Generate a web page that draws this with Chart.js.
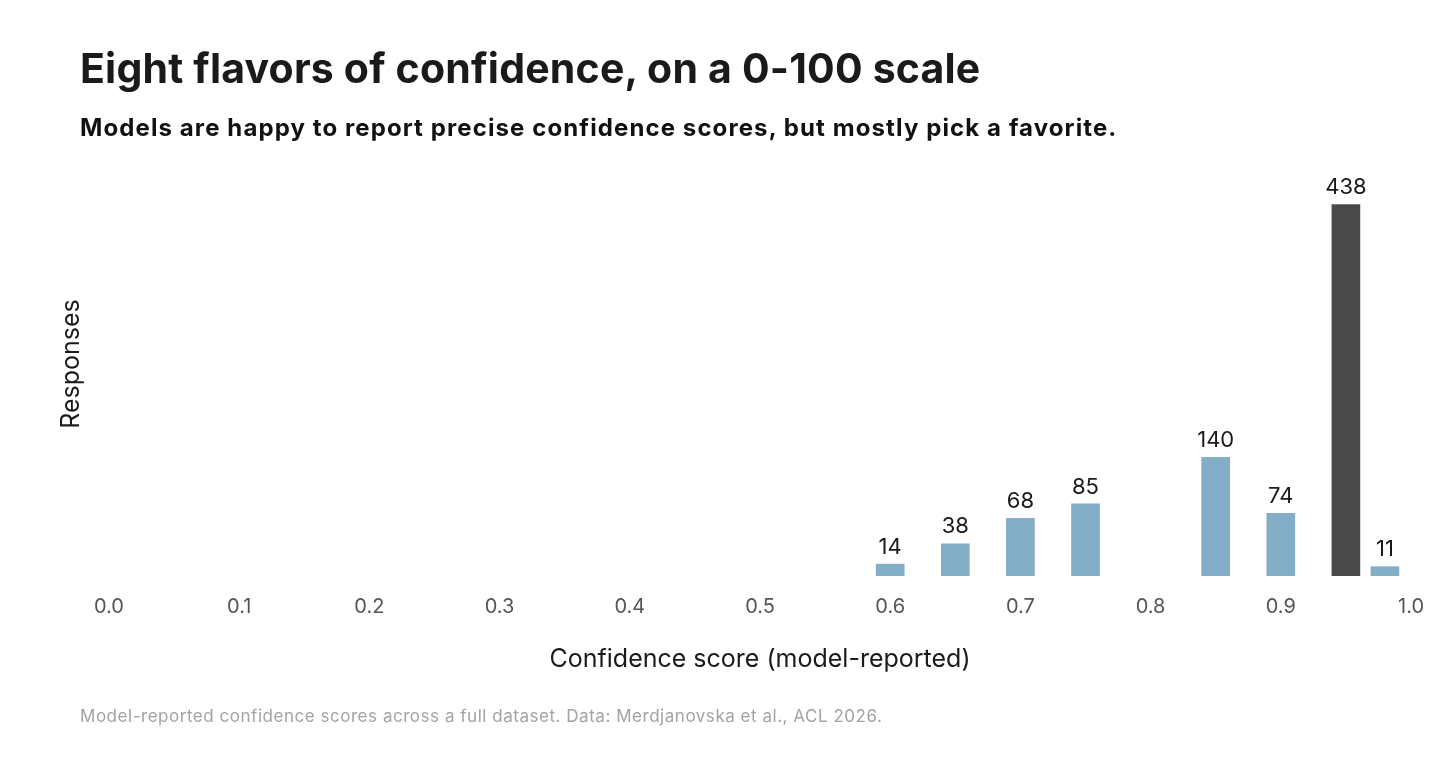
<!DOCTYPE html>
<html>
<head>
<meta charset="utf-8">
<script src="https://cdn.jsdelivr.net/npm/chart.js@4"></script>
<style>
  html, body { margin: 0; padding: 0; background: #fff; }
  #wrap { position: relative; width: 1456px; height: 763px; font-family: Inter, "Noto Sans", sans-serif; }
  #chart { position: absolute; left: 0; top: 0; }
  .title { position: absolute; left: 80px; top: 48px; font-size: 41px; font-weight: 700; letter-spacing: 0.2px; color: #1a1a1a; line-height: 1; white-space: nowrap; }
  .subtitle { position: absolute; left: 80px; top: 116px; font-size: 24px; font-weight: 700; letter-spacing: 1.1px; color: #111; line-height: 1; white-space: nowrap; }
  .note { position: absolute; left: 80px; top: 708px; font-size: 17px; letter-spacing: 0.53px; color: #a3a3a3; line-height: 1; white-space: nowrap; }
</style>
</head>
<body>
<div id="wrap">
  <canvas id="chart" width="1456" height="763"></canvas>
  <div class="title">Eight flavors of confidence, on a 0-100 scale</div>
  <div class="subtitle">Models are happy to report precise confidence scores, but mostly pick a favorite.</div>
  <div class="note">Model-reported confidence scores across a full dataset. Data: Merdjanovska et al., ACL 2026.</div>
</div>
<script>
const scores = [0.60, 0.65, 0.70, 0.75, 0.85, 0.90, 0.95, 0.98]
const responses = [14, 38, 68, 85, 140, 74, 438, 11]
const favorite = 0.95
const tick_values = [0.0, 0.1, 0.2, 0.3, 0.4, 0.5, 0.6, 0.7, 0.8, 0.9, 1.0]

// value labels above each bar
const bar_labels = {
    id: 'bar_labels',
    afterDatasetsDraw(chart) {
        const ctx = chart.ctx
        const meta = chart.getDatasetMeta(0)
        ctx.save()
        ctx.font = '22px Inter, "Noto Sans", sans-serif'
        ctx.fillStyle = '#1a1a1a'
        ctx.textAlign = 'center'
        ctx.textBaseline = 'bottom'
        meta.data.forEach((bar, i) => {
            ctx.fillText(String(responses[i]), bar.x, bar.y - 6)
        })
        ctx.restore()
    }
}

const confidence_chart = () => {
    const ctx = document.getElementById('chart')

    new Chart(ctx, {
        type: 'bar',
        data: {
            datasets: [{
                label: 'Responses',
                data: scores.map((s, i) => ({ x: s, y: responses[i] })),
                backgroundColor: scores.map(s => s === favorite ? '#4a4a4a' : '#84adc8'),
                borderWidth: 0,
                barThickness: 28,
            }],
        },
        options: {
            responsive: false,
            animation: false,
            layout: {
                padding: { left: 52, right: 45, top: 152, bottom: 85 },
            },
            plugins: {
                legend: { display: false },
                tooltip: { enabled: false },
            },
            scales: {
                x: {
                    type: 'linear',
                    min: 0,
                    max: 1,
                    offset: false,
                    grid: { display: false, drawTicks: false },
                    border: { display: false },
                    afterBuildTicks: axis => { axis.ticks = tick_values.map(v => ({ value: v })) },
                    ticks: {
                        padding: 19,
                        color: '#555',
                        font: { family: 'Inter', size: 20 },
                        callback: v => Number(v).toFixed(1),
                    },
                    title: {
                        display: true,
                        text: 'Confidence score (model-reported)',
                        color: '#1a1a1a',
                        font: { family: 'Inter', size: 25 },
                        padding: { top: 6, bottom: 4 },
                    },
                },
                y: {
                    min: 0,
                    max: 500,
                    grid: { display: false, drawTicks: false },
                    border: { display: false },
                    ticks: { display: false },
                    title: {
                        display: true,
                        text: 'Responses',
                        color: '#1a1a1a',
                        font: { family: 'Inter', size: 25 },
                        padding: { top: 4, bottom: 23 },
                    },
                },
            },
        },
        plugins: [bar_labels],
    })
}

confidence_chart()
</script>
</body>
</html>
